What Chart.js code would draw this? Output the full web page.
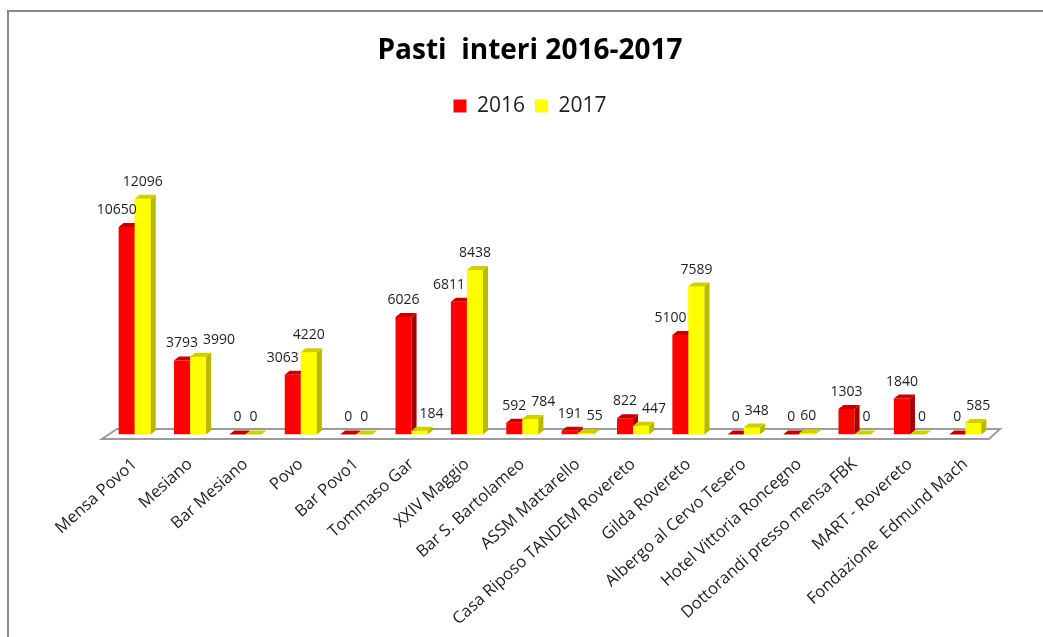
<!DOCTYPE html>
<html>
<head>
<meta charset="utf-8">
<script src="https://cdn.jsdelivr.net/npm/chart.js@4/dist/chart.umd.min.js"></script>
<style>
  html, body { margin: 0; padding: 0; background: #fff; }
  #wrap { width: 1043px; height: 637px; }
</style>
</head>
<body>
<div id="wrap"><canvas id="chart" width="1043" height="637"></canvas></div>
<script>
// Chart data
const categories = ["Mensa Povo1", "Mesiano", "Bar Mesiano", "Povo", "Bar Povo1", "Tommaso Gar", "XXIV Maggio",
  "Bar S. Bartolameo", "ASSM Mattarello", "Casa Riposo TANDEM Rovereto", "Gilda Rovereto",
  "Albergo al Cervo Tesero", "Hotel Vittoria Roncegno", "Dottorandi presso mensa FBK", "MART - Rovereto",
  "Fondazione  Edmund Mach"];
const values2016 = [10650, 3793, 0, 3063, 0, 6026, 6811, 592, 191, 822, 5100, 0, 0, 1303, 1840, 0];
const values2017 = [12096, 3990, 0, 4220, 0, 184, 8438, 784, 55, 447, 7589, 348, 60, 0, 0, 585];
const seriesLabels = ["2016", "2017"];

// colours for front / top / side faces
const faces = [
  { front: "#FF0000", top: "#C00000", side: "#A80000" },
  { front: "#FFFF00", top: "#CFCF00", side: "#B8B800" }
];
const DX = 5, DY = 4; // bar depth

// floor under the bars
const floorPlugin = {
  id: "floor",
  beforeDatasetsDraw(chart) {
    const { ctx, chartArea } = chart;
    const base = chart.scales.y.getPixelForValue(0);
    const l = chartArea.left, r = chartArea.right;
    ctx.save();
    ctx.beginPath();
    ctx.moveTo(l - 5, base + 4.5);
    ctx.lineTo(r - 4, base + 4.5);
    ctx.lineTo(r + 7, base - 5.5);
    ctx.lineTo(l + 10, base - 5.5);
    ctx.closePath();
    ctx.fillStyle = "#ffffff";
    ctx.fill();
    ctx.lineWidth = 2;
    ctx.strokeStyle = "#9c9c9c";
    ctx.stroke();
    ctx.restore();
  }
};

function drawDepth(ctx, meta, f) {
  meta.data.forEach((bar) => {
    const { x, y, base, width } = bar.getProps(["x", "y", "base", "width"], true);
    const l = x - width / 2, r = x + width / 2;
    ctx.fillStyle = f.side;
    ctx.beginPath();
    ctx.moveTo(r, y);
    ctx.lineTo(r + DX, y - DY);
    ctx.lineTo(r + DX, base - DY);
    ctx.lineTo(r, base);
    ctx.closePath();
    ctx.fill();
    ctx.fillStyle = f.top;
    ctx.beginPath();
    ctx.moveTo(l, y);
    ctx.lineTo(r, y);
    ctx.lineTo(r + DX, y - DY);
    ctx.lineTo(l + DX, y - DY);
    ctx.closePath();
    ctx.fill();
  });
}

// 3D faces: red first, then the yellow fronts again so they cover the red sides
const depthPlugin = {
  id: "depth",
  afterDatasetsDraw(chart) {
    const { ctx } = chart;
    ctx.save();
    drawDepth(ctx, chart.getDatasetMeta(0), faces[0]);
    const meta17 = chart.getDatasetMeta(1);
    meta17.data.forEach((bar) => bar.draw(ctx, chart.chartArea));
    drawDepth(ctx, meta17, faces[1]);
    ctx.restore();
  }
};

// value labels above the bars, nudged sideways when they hit the other label or bar
const labelPlugin = {
  id: "valueLabels",
  afterDatasetsDraw(chart) {
    const { ctx } = chart;
    ctx.save();
    ctx.font = "14px 'Open Sans'";
    ctx.fillStyle = "#1e1e1e";
    ctx.textAlign = "center";
    ctx.textBaseline = "middle";
    const m16 = chart.getDatasetMeta(0).data;
    const m17 = chart.getDatasetMeta(1).data;
    categories.forEach((c, j) => {
      const b0 = m16[j], b1 = m17[j];
      const t0 = String(values2016[j]), t1 = String(values2017[j]);
      const w0 = ctx.measureText(t0).width, w1 = ctx.measureText(t1).width;
      let x0 = b0.x, x1 = b1.x;
      const y0 = b0.y - 17, y1 = b1.y - 17;
      // red label sitting in front of a taller yellow bar
      if (y0 + 7 > b1.y - DY) {
        const hit = (x0 + w0 / 2 + 2) - (b1.x - b1.width / 2);
        if (hit > 0) x0 -= Math.min(hit, 10);
      }
      // yellow label next to a taller red bar
      if (y1 + 7 > b0.y - DY) {
        const hit = (b0.x + b0.width / 2 + DX + 3) - (x1 - w1 / 2);
        if (hit > 0) x1 += hit;
      }
      // the two labels at the same height
      if (Math.abs(y0 - y1) < 15) {
        const overlap = (x0 + w0 / 2 + 5) - (x1 - w1 / 2);
        if (overlap > 0) x1 += overlap;
      }
      ctx.fillText(t0, x0, y0);
      ctx.fillText(t1, x1, y1);
    });
    ctx.restore();
  },
  afterDraw(chart) {
    const { ctx } = chart;
    ctx.save();
    ctx.fillStyle = "#8a8a8a";
    ctx.fillRect(7, 10, 1036, 2);
    ctx.fillRect(7, 10, 2, 627);
    ctx.restore();
  }
};

new Chart(document.getElementById("chart").getContext("2d"), {
  type: "bar",
  data: {
    labels: categories,
    datasets: [
      { label: seriesLabels[0], data: values2016, backgroundColor: faces[0].front },
      { label: seriesLabels[1], data: values2017, backgroundColor: faces[1].front }
    ]
  },
  options: {
    responsive: false,
    animation: false,
    layout: { padding: { left: 67, right: 50, top: 0, bottom: -4 } },
    datasets: { bar: { categoryPercentage: 0.58, barPercentage: 1 } },
    plugins: {
      title: {
        display: true,
        text: "Pasti  interi 2016-2017",
        color: "#000",
        font: { family: "'Open Sans'", size: 28, weight: "bold" },
        padding: { top: 34, bottom: 18 }
      },
      legend: {
        labels: {
          boxWidth: 13,
          boxHeight: 13,
          color: "#1e1e1e",
          font: { family: "'Open Sans'", size: 21 }
        }
      },
      tooltip: { enabled: false }
    },
    scales: {
      x: {
        grid: { display: false },
        border: { display: false },
        ticks: {
          autoSkip: false,
          minRotation: 42,
          maxRotation: 42,
          padding: 12,
          color: "#1e1e1e",
          font: { family: "'Open Sans'", size: 16.5 }
        }
      },
      y: {
        min: 0,
        max: 15800,
        grid: { display: false },
        border: { display: false },
        ticks: { display: false },
        afterFit: (scale) => { scale.width = 40; }
      }
    }
  },
  plugins: [floorPlugin, depthPlugin, labelPlugin]
});
</script>
</body>
</html>
